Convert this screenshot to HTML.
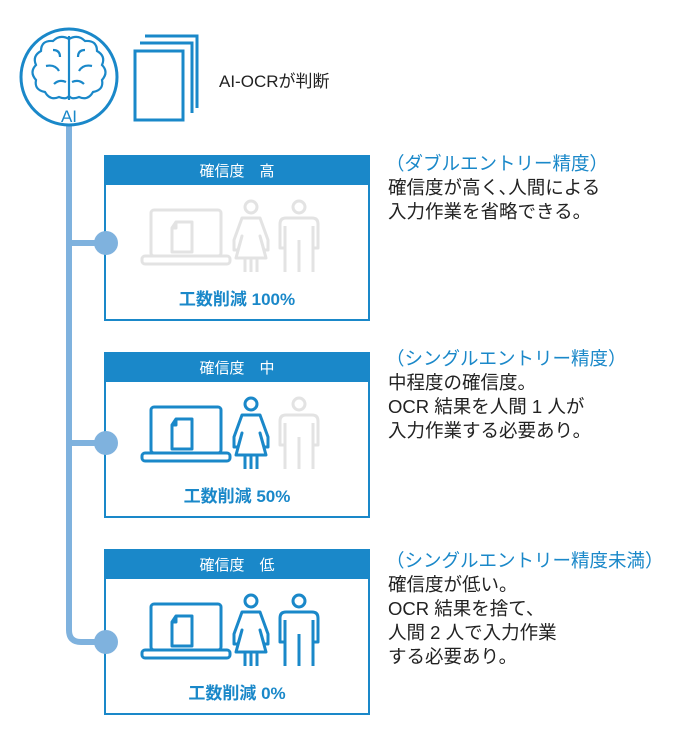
<!DOCTYPE html>
<html><head><meta charset="utf-8"><style>
body{margin:0;background:#fff;}
svg text{font-family:"Liberation Sans","Noto Sans CJK JP",sans-serif;}
</style></head><body>
<svg width="680" height="729" viewBox="0 0 680 729" xmlns="http://www.w3.org/2000/svg">
<defs>
<g id="laptop" fill="none" stroke-width="3" stroke-linejoin="round">
  <rect x="151" y="0" width="70" height="46" rx="3"/>
  <rect x="142" y="46" width="88" height="8" rx="3"/>
  <path d="M176 12 h16 v30 h-20 v-24 z M176 12 v6 h-4"/>
</g>
<g id="woman" fill="none" stroke-width="3" stroke-linejoin="round">
  <circle cx="251" cy="-3" r="6"/>
  <path d="M242 8 h18 l8 22 v10 h-4 l-4 -14 l6 22 h-30 l6 -22 l-4 14 h-4 v-10 z"/>
  <path d="M245 48 v14 M251 48 v14 M257 48 v14"/>
</g>
<g id="man" fill="none" stroke-width="3" stroke-linejoin="round">
  <circle cx="299" cy="-3" r="6"/>
  <path d="M286 8 h26 q6 0 6 6 v24 h-5 v-22 M285 38 h-5 v-24 q0 -6 6 -6 M285 16 v46 M299 30 v32 M313 16 v46"/>
</g>
</defs>

<path d="M69 126 V630 Q69 642 81 642 H106" fill="none" stroke="#7fb2de" stroke-width="6"/>
<line x1="69" y1="243" x2="106" y2="243" stroke="#7fb2de" stroke-width="6"/>
<line x1="69" y1="443" x2="106" y2="443" stroke="#7fb2de" stroke-width="6"/>

<circle cx="69" cy="77" r="48" fill="#fff" stroke="#1a88c9" stroke-width="3"/>
<g fill="none" stroke="#1a88c9" stroke-width="2.2">
  <path d="M69 36 V100"/>
  <path d="M69 39 q-9 -5 -16 2 q-12 -1 -12 10 q-9 5 -5 14 q-7 7 0 15 q-2 10 9 12 q5 9 14 5 q7 3 10 -1"/>
  <path d="M69 39 q9 -5 16 2 q12 -1 12 10 q9 5 5 14 q7 7 0 15 q2 10 -9 12 q-5 9 -14 5 q-7 3 -10 -1"/>
  <path d="M53 50 q7 0 7 7 M46 66 q9 -2 13 5 M54 84 q5 -5 12 -2 M85 50 q-7 0 -7 7 M92 66 q-9 -2 -13 5 M84 84 q-5 -5 -12 -2"/>
</g>
<text x="69" y="122" text-anchor="middle" font-size="17" fill="#1a88c9">AI</text>

<g fill="none" stroke="#1a88c9" stroke-width="3">
  <path d="M145 36 h52 v72"/>
  <path d="M140 43 h52 v70"/>
  <rect x="135" y="51" width="48" height="69"/>
</g>
<text x="219" y="87" font-size="17" fill="#222">AI-OCRが判断</text>

<rect x="105" y="156" width="264" height="164" fill="#fff" stroke="#1a88c9" stroke-width="2"/>
<rect x="104" y="155" width="266" height="30" fill="#1a88c9"/>
<text x="237" y="176" text-anchor="middle" font-size="15" fill="#fff">確信度　高</text>
<g transform="translate(0,210)" stroke="#e3e3e3"><use href="#laptop"/><use href="#woman"/><use href="#man"/></g>
<text x="237" y="305" text-anchor="middle" font-size="17" font-weight="bold" fill="#1a88c9">工数削減 100%</text>

<rect x="105" y="353" width="264" height="164" fill="#fff" stroke="#1a88c9" stroke-width="2"/>
<rect x="104" y="352" width="266" height="30" fill="#1a88c9"/>
<text x="237" y="373" text-anchor="middle" font-size="15" fill="#fff">確信度　中</text>
<g transform="translate(0,407)"><use href="#laptop" stroke="#1a88c9"/><use href="#woman" stroke="#1a88c9"/><use href="#man" stroke="#e3e3e3"/></g>
<text x="237" y="502" text-anchor="middle" font-size="17" font-weight="bold" fill="#1a88c9">工数削減 50%</text>

<rect x="105" y="550" width="264" height="164" fill="#fff" stroke="#1a88c9" stroke-width="2"/>
<rect x="104" y="549" width="266" height="30" fill="#1a88c9"/>
<text x="237" y="570" text-anchor="middle" font-size="15" fill="#fff">確信度　低</text>
<g transform="translate(0,604)" stroke="#1a88c9"><use href="#laptop"/><use href="#woman"/><use href="#man"/></g>
<text x="237" y="699" text-anchor="middle" font-size="17" font-weight="bold" fill="#1a88c9">工数削減 0%</text>

<circle cx="106" cy="243" r="12" fill="#7fb2de"/>
<circle cx="106" cy="443" r="12" fill="#7fb2de"/>
<circle cx="106" cy="642" r="12" fill="#7fb2de"/>

<g font-size="18.5" fill="#222">
  <text x="386" y="170" fill="#1a88c9">（ダブルエントリー精度）</text>
  <text x="388" y="194">確信度が高く､人間による</text>
  <text x="388" y="218">入力作業を省略できる。</text>

  <text x="386" y="365" fill="#1a88c9">（シングルエントリー精度）</text>
  <text x="388" y="389">中程度の確信度。</text>
  <text x="388" y="413">OCR 結果を人間 1 人が</text>
  <text x="388" y="437">入力作業する必要あり。</text>

  <text x="386" y="567" fill="#1a88c9">（シングルエントリー精度未満）</text>
  <text x="388" y="591">確信度が低い。</text>
  <text x="388" y="615">OCR 結果を捨て、</text>
  <text x="388" y="639">人間 2 人で入力作業</text>
  <text x="388" y="663">する必要あり。</text>
</g>
</svg>
</body></html>
